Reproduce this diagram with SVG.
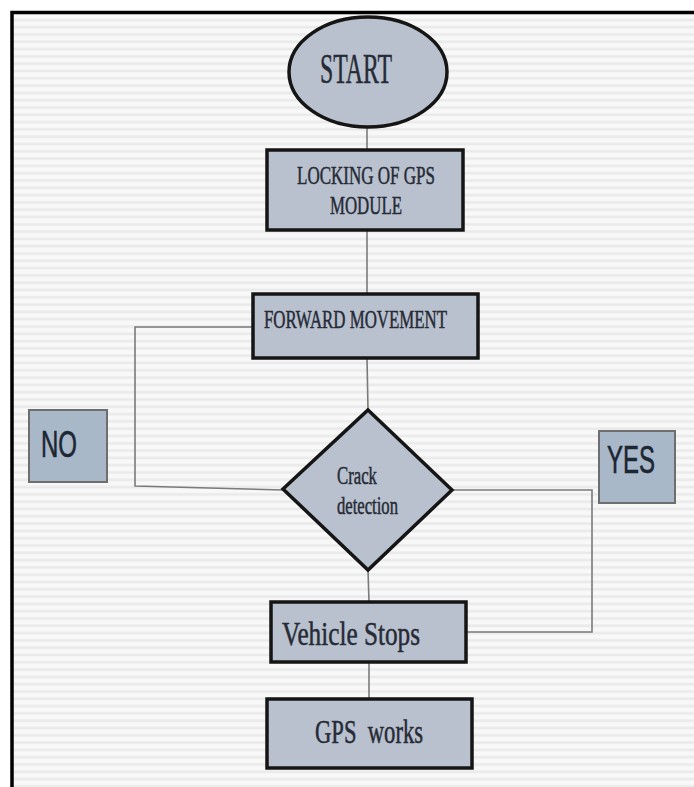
<svg xmlns="http://www.w3.org/2000/svg" width="694" height="787" viewBox="0 0 694 787">
<defs>
<pattern id="stripes" x="0" y="0" width="10" height="7.3" patternUnits="userSpaceOnUse">
<rect x="0" y="0" width="10" height="7.3" fill="#f8f8f8"/>
<rect x="0" y="4" width="10" height="2.6" fill="#eaeaea"/>
</pattern>
<style>
.node{fill:#b9c1cf;stroke:#151515;stroke-width:3.5}
.lbl{fill:#a9b8c8;stroke:#6e6e6e;stroke-width:2}
.serif{font-family:"Liberation Serif","Times New Roman",serif;fill:#262b35;stroke:#262b35;stroke-width:0.5;white-space:pre}
.sans{font-family:"Liberation Sans",Arial,sans-serif;fill:#1d2633;stroke:#1d2633;stroke-width:0.6}
.conn{fill:none;stroke:#7a7a7a;stroke-width:1.6}
</style>
</defs>
<rect x="0" y="0" width="694" height="787" fill="#ffffff"/>
<rect x="12" y="12.5" width="700" height="800" fill="url(#stripes)"/>
<path d="M12 800 V12.5 H700" fill="none" stroke="#000" stroke-width="3.5"/>

<g id="connectors">
<line class="conn" x1="367" y1="127" x2="367" y2="150"/>
<line class="conn" x1="367" y1="230" x2="367" y2="294"/>
<line class="conn" x1="367" y1="358" x2="368" y2="410"/>
<line class="conn" x1="368" y1="570" x2="369" y2="602"/>
<line class="conn" x1="369" y1="662" x2="369" y2="699"/>
<polyline class="conn" points="283,490 135,486 135,327 253,327"/>
<polyline class="conn" points="452,490 592,490 592,632 467,632"/>
</g>

<g id="start">
<ellipse class="node" cx="368" cy="72" rx="79" ry="55"/>
<text class="serif" x="320" y="83" font-size="42" textLength="72" lengthAdjust="spacingAndGlyphs">START</text>
</g>

<g id="locking">
<rect class="node" x="267" y="150" width="196" height="80"/>
<text class="serif" x="297" y="184" font-size="26" textLength="138" lengthAdjust="spacingAndGlyphs">LOCKING OF GPS</text>
<text class="serif" x="330" y="214" font-size="26" textLength="72" lengthAdjust="spacingAndGlyphs">MODULE</text>
</g>

<g id="forward">
<rect class="node" x="253" y="294" width="225" height="64"/>
<text class="serif" x="264" y="328" font-size="26" textLength="183" lengthAdjust="spacingAndGlyphs">FORWARD MOVEMENT</text>
</g>

<g id="crack">
<polygon class="node" points="368,410 452,490 368,570 283,489"/>
<text class="serif" x="337" y="484" font-size="25" textLength="40" lengthAdjust="spacingAndGlyphs">Crack</text>
<text class="serif" x="337" y="514" font-size="25" textLength="61" lengthAdjust="spacingAndGlyphs">detection</text>
</g>

<g id="no">
<rect class="lbl" x="29" y="410" width="78" height="72"/>
<text class="sans" x="41" y="457" font-size="37" textLength="36" lengthAdjust="spacingAndGlyphs">NO</text>
</g>

<g id="yes">
<rect class="lbl" x="599" y="431" width="76" height="72"/>
<text class="sans" x="607" y="473" font-size="38" textLength="48" lengthAdjust="spacingAndGlyphs">YES</text>
</g>

<g id="stops">
<rect class="node" x="271" y="602" width="195" height="60"/>
<text class="serif" x="282" y="645" font-size="33" textLength="138" lengthAdjust="spacingAndGlyphs">Vehicle Stops</text>
</g>

<g id="gps">
<rect class="node" x="267" y="699" width="205" height="69"/>
<text class="serif" x="315" y="743" font-size="33" textLength="108" lengthAdjust="spacingAndGlyphs">GPS  works</text>
</g>
</svg>
